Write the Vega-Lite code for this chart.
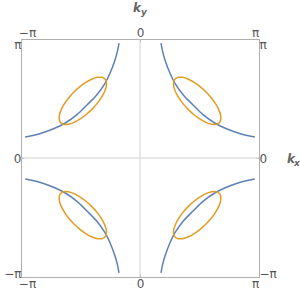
{
"$schema": "https://vega.github.io/schema/vega-lite/v6.json",
"width": 238, "height": 238,
"autosize": {"type": "none"},
"padding": {"left": 21, "top": 39, "right": 41, "bottom": 18},
"background": "white",
"config": {
  "view": {"stroke": "#b0b0b0", "strokeWidth": 1},
  "axis": {"labelFont": "DejaVu Sans", "labelFontSize": 12, "labelColor": "#555555", "grid": false, "domain": false, "title": null, "tickColor": "#b0b0b0", "tickSize": -3, "labelFlush": false}
},
"datasets": {
  "blue": [
    {"q":"TR","i":0,"x":0.554,"y":3.03},{"q":"TR","i":1,"x":0.6,"y":2.8},{"q":"TR","i":2,"x":0.66,"y":2.587},{"q":"TR","i":3,"x":0.792,"y":2.236},{"q":"TR","i":4,"x":0.924,"y":1.972},{"q":"TR","i":5,"x":1.144,"y":1.663},{"q":"TR","i":6,"x":1.4,"y":1.4},{"q":"TR","i":7,"x":1.663,"y":1.144},{"q":"TR","i":8,"x":1.972,"y":0.924},{"q":"TR","i":9,"x":2.236,"y":0.792},{"q":"TR","i":10,"x":2.587,"y":0.66},{"q":"TR","i":11,"x":2.8,"y":0.6},{"q":"TR","i":12,"x":3.03,"y":0.554},
    {"q":"TL","i":0,"x":-0.554,"y":3.03},{"q":"TL","i":1,"x":-0.6,"y":2.8},{"q":"TL","i":2,"x":-0.66,"y":2.587},{"q":"TL","i":3,"x":-0.792,"y":2.236},{"q":"TL","i":4,"x":-0.924,"y":1.972},{"q":"TL","i":5,"x":-1.144,"y":1.663},{"q":"TL","i":6,"x":-1.4,"y":1.4},{"q":"TL","i":7,"x":-1.663,"y":1.144},{"q":"TL","i":8,"x":-1.972,"y":0.924},{"q":"TL","i":9,"x":-2.236,"y":0.792},{"q":"TL","i":10,"x":-2.587,"y":0.66},{"q":"TL","i":11,"x":-2.8,"y":0.6},{"q":"TL","i":12,"x":-3.03,"y":0.554},
    {"q":"BL","i":0,"x":-0.554,"y":-3.03},{"q":"BL","i":1,"x":-0.6,"y":-2.8},{"q":"BL","i":2,"x":-0.66,"y":-2.587},{"q":"BL","i":3,"x":-0.792,"y":-2.236},{"q":"BL","i":4,"x":-0.924,"y":-1.972},{"q":"BL","i":5,"x":-1.144,"y":-1.663},{"q":"BL","i":6,"x":-1.4,"y":-1.4},{"q":"BL","i":7,"x":-1.663,"y":-1.144},{"q":"BL","i":8,"x":-1.972,"y":-0.924},{"q":"BL","i":9,"x":-2.236,"y":-0.792},{"q":"BL","i":10,"x":-2.587,"y":-0.66},{"q":"BL","i":11,"x":-2.8,"y":-0.6},{"q":"BL","i":12,"x":-3.03,"y":-0.554},
    {"q":"BR","i":0,"x":0.554,"y":-3.03},{"q":"BR","i":1,"x":0.6,"y":-2.8},{"q":"BR","i":2,"x":0.66,"y":-2.587},{"q":"BR","i":3,"x":0.792,"y":-2.236},{"q":"BR","i":4,"x":0.924,"y":-1.972},{"q":"BR","i":5,"x":1.144,"y":-1.663},{"q":"BR","i":6,"x":1.4,"y":-1.4},{"q":"BR","i":7,"x":1.663,"y":-1.144},{"q":"BR","i":8,"x":1.972,"y":-0.924},{"q":"BR","i":9,"x":2.236,"y":-0.792},{"q":"BR","i":10,"x":2.587,"y":-0.66},{"q":"BR","i":11,"x":2.8,"y":-0.6},{"q":"BR","i":12,"x":3.03,"y":-0.554}
  ],
  "orange": [
    {"q":"TR","i":0,"x":2.09,"y":0.93},{"q":"TR","i":1,"x":2.13,"y":1.01},{"q":"TR","i":2,"x":2.129,"y":1.125},{"q":"TR","i":3,"x":2.085,"y":1.265},{"q":"TR","i":4,"x":2.002,"y":1.422},{"q":"TR","i":5,"x":1.885,"y":1.585},{"q":"TR","i":6,"x":1.743,"y":1.743},{"q":"TR","i":7,"x":1.585,"y":1.885},{"q":"TR","i":8,"x":1.422,"y":2.002},{"q":"TR","i":9,"x":1.265,"y":2.085},{"q":"TR","i":10,"x":1.125,"y":2.129},{"q":"TR","i":11,"x":1.01,"y":2.13},{"q":"TR","i":12,"x":0.93,"y":2.09},{"q":"TR","i":13,"x":0.89,"y":2.01},{"q":"TR","i":14,"x":0.891,"y":1.893},{"q":"TR","i":15,"x":0.935,"y":1.755},{"q":"TR","i":16,"x":1.018,"y":1.598},{"q":"TR","i":17,"x":1.135,"y":1.435},{"q":"TR","i":18,"x":1.277,"y":1.277},{"q":"TR","i":19,"x":1.435,"y":1.135},{"q":"TR","i":20,"x":1.598,"y":1.018},{"q":"TR","i":21,"x":1.755,"y":0.935},{"q":"TR","i":22,"x":1.893,"y":0.891},{"q":"TR","i":23,"x":2.01,"y":0.89},
    {"q":"TL","i":0,"x":-2.09,"y":0.93},{"q":"TL","i":1,"x":-2.13,"y":1.01},{"q":"TL","i":2,"x":-2.129,"y":1.125},{"q":"TL","i":3,"x":-2.085,"y":1.265},{"q":"TL","i":4,"x":-2.002,"y":1.422},{"q":"TL","i":5,"x":-1.885,"y":1.585},{"q":"TL","i":6,"x":-1.743,"y":1.743},{"q":"TL","i":7,"x":-1.585,"y":1.885},{"q":"TL","i":8,"x":-1.422,"y":2.002},{"q":"TL","i":9,"x":-1.265,"y":2.085},{"q":"TL","i":10,"x":-1.125,"y":2.129},{"q":"TL","i":11,"x":-1.01,"y":2.13},{"q":"TL","i":12,"x":-0.93,"y":2.09},{"q":"TL","i":13,"x":-0.89,"y":2.01},{"q":"TL","i":14,"x":-0.891,"y":1.893},{"q":"TL","i":15,"x":-0.935,"y":1.755},{"q":"TL","i":16,"x":-1.018,"y":1.598},{"q":"TL","i":17,"x":-1.135,"y":1.435},{"q":"TL","i":18,"x":-1.277,"y":1.277},{"q":"TL","i":19,"x":-1.435,"y":1.135},{"q":"TL","i":20,"x":-1.598,"y":1.018},{"q":"TL","i":21,"x":-1.755,"y":0.935},{"q":"TL","i":22,"x":-1.893,"y":0.891},{"q":"TL","i":23,"x":-2.01,"y":0.89},
    {"q":"BL","i":0,"x":-2.09,"y":-0.93},{"q":"BL","i":1,"x":-2.13,"y":-1.01},{"q":"BL","i":2,"x":-2.129,"y":-1.125},{"q":"BL","i":3,"x":-2.085,"y":-1.265},{"q":"BL","i":4,"x":-2.002,"y":-1.422},{"q":"BL","i":5,"x":-1.885,"y":-1.585},{"q":"BL","i":6,"x":-1.743,"y":-1.743},{"q":"BL","i":7,"x":-1.585,"y":-1.885},{"q":"BL","i":8,"x":-1.422,"y":-2.002},{"q":"BL","i":9,"x":-1.265,"y":-2.085},{"q":"BL","i":10,"x":-1.125,"y":-2.129},{"q":"BL","i":11,"x":-1.01,"y":-2.13},{"q":"BL","i":12,"x":-0.93,"y":-2.09},{"q":"BL","i":13,"x":-0.89,"y":-2.01},{"q":"BL","i":14,"x":-0.891,"y":-1.893},{"q":"BL","i":15,"x":-0.935,"y":-1.755},{"q":"BL","i":16,"x":-1.018,"y":-1.598},{"q":"BL","i":17,"x":-1.135,"y":-1.435},{"q":"BL","i":18,"x":-1.277,"y":-1.277},{"q":"BL","i":19,"x":-1.435,"y":-1.135},{"q":"BL","i":20,"x":-1.598,"y":-1.018},{"q":"BL","i":21,"x":-1.755,"y":-0.935},{"q":"BL","i":22,"x":-1.893,"y":-0.891},{"q":"BL","i":23,"x":-2.01,"y":-0.89},
    {"q":"BR","i":0,"x":2.09,"y":-0.93},{"q":"BR","i":1,"x":2.13,"y":-1.01},{"q":"BR","i":2,"x":2.129,"y":-1.125},{"q":"BR","i":3,"x":2.085,"y":-1.265},{"q":"BR","i":4,"x":2.002,"y":-1.422},{"q":"BR","i":5,"x":1.885,"y":-1.585},{"q":"BR","i":6,"x":1.743,"y":-1.743},{"q":"BR","i":7,"x":1.585,"y":-1.885},{"q":"BR","i":8,"x":1.422,"y":-2.002},{"q":"BR","i":9,"x":1.265,"y":-2.085},{"q":"BR","i":10,"x":1.125,"y":-2.129},{"q":"BR","i":11,"x":1.01,"y":-2.13},{"q":"BR","i":12,"x":0.93,"y":-2.09},{"q":"BR","i":13,"x":0.89,"y":-2.01},{"q":"BR","i":14,"x":0.891,"y":-1.893},{"q":"BR","i":15,"x":0.935,"y":-1.755},{"q":"BR","i":16,"x":1.018,"y":-1.598},{"q":"BR","i":17,"x":1.135,"y":-1.435},{"q":"BR","i":18,"x":1.277,"y":-1.277},{"q":"BR","i":19,"x":1.435,"y":-1.135},{"q":"BR","i":20,"x":1.598,"y":-1.018},{"q":"BR","i":21,"x":1.755,"y":-0.935},{"q":"BR","i":22,"x":1.893,"y":-0.891},{"q":"BR","i":23,"x":2.01,"y":-0.89}
  ]
},
"layer": [
  {
    "data": {"values": [{}]},
    "mark": {"type": "rule", "color": "#d0d0d0", "strokeWidth": 1},
    "encoding": {
      "x": {"datum": 0, "type": "quantitative", "scale": {"domain": [-3.14159, 3.14159], "nice": false, "zero": false},
        "axis": {"orient": "bottom", "values": [-3.14159, 0, 3.14159], "labelExpr": "datum.value < -1 ? '−π' : (datum.value > 1 ? 'π' : '0')", "labelPadding": 4,
          "labelOffset": {"condition": [{"test": "datum.value < -1", "value": 6}, {"test": "datum.value > 1", "value": -4}], "value": 0}}}
    }
  },
  {
    "data": {"values": [{}]},
    "mark": {"type": "rule", "color": "#d0d0d0", "strokeWidth": 1},
    "encoding": {
      "y": {"datum": 0, "type": "quantitative", "scale": {"domain": [-3.14159, 3.14159], "nice": false, "zero": false},
        "axis": {"orient": "left", "values": [-3.14159, 0, 3.14159], "labelExpr": "datum.value < -1 ? '−π' : (datum.value > 1 ? 'π' : '0')", "labelPadding": 3,
          "labelOffset": {"condition": [{"test": "datum.value < -1", "value": -4}, {"test": "datum.value > 1", "value": 5}], "value": 0}}}
    }
  },
  {
    "data": {"name": "blue"},
    "mark": {"type": "line", "color": "#5E81B5", "strokeWidth": 1.5, "interpolate": "catmull-rom"},
    "encoding": {
      "x": {"field": "x", "type": "quantitative", "scale": {"domain": [-3.14159, 3.14159], "nice": false, "zero": false},
        "axis": {"orient": "top", "values": [-3.14159, 0, 3.14159], "labelExpr": "datum.value < -1 ? '−π' : (datum.value > 1 ? 'π' : '0')", "labelPadding": 3,
          "labelOffset": {"condition": [{"test": "datum.value < -1", "value": 6}, {"test": "datum.value > 1", "value": -4}], "value": 0}}},
      "y": {"field": "y", "type": "quantitative", "scale": {"domain": [-3.14159, 3.14159], "nice": false, "zero": false},
        "axis": {"orient": "right", "values": [-3.14159, 0, 3.14159], "labelExpr": "datum.value < -1 ? '−π' : (datum.value > 1 ? 'π' : '0')", "labelPadding": 3,
          "labelOffset": {"condition": [{"test": "datum.value < -1", "value": -4}, {"test": "datum.value > 1", "value": 5}], "value": 0}}},
      "detail": {"field": "q"},
      "order": {"field": "i", "type": "quantitative"}
    }
  },
  {
    "data": {"name": "orange"},
    "mark": {"type": "line", "color": "#E19C24", "strokeWidth": 1.5, "interpolate": "cardinal-closed"},
    "encoding": {
      "x": {"field": "x", "type": "quantitative", "axis": null},
      "y": {"field": "y", "type": "quantitative", "axis": null},
      "detail": {"field": "q"},
      "order": {"field": "i", "type": "quantitative"}
    }
  },
  {
    "data": {"values": [{}]},
    "mark": {"type": "text", "text": "k", "font": "DejaVu Sans", "fontSize": 12, "fontStyle": "italic", "fontWeight": "bold", "color": "#666666", "align": "center", "baseline": "alphabetic", "dx": -3, "dy": -27},
    "encoding": {"x": {"datum": 0, "type": "quantitative", "axis": null}, "y": {"datum": 3.14159, "type": "quantitative", "axis": null}}
  },
  {
    "data": {"values": [{}]},
    "mark": {"type": "text", "text": "y", "font": "DejaVu Sans", "fontSize": 9, "fontStyle": "italic", "fontWeight": "bold", "color": "#666666", "align": "left", "baseline": "alphabetic", "dx": 1, "dy": -24},
    "encoding": {"x": {"datum": 0, "type": "quantitative", "axis": null}, "y": {"datum": 3.14159, "type": "quantitative", "axis": null}}
  },
  {
    "data": {"values": [{}]},
    "mark": {"type": "text", "text": "k", "font": "DejaVu Sans", "fontSize": 12, "fontStyle": "italic", "fontWeight": "bold", "color": "#666666", "align": "left", "baseline": "alphabetic", "dx": 28, "dy": 5},
    "encoding": {"x": {"datum": 3.14159, "type": "quantitative", "axis": null}, "y": {"datum": 0, "type": "quantitative", "axis": null}}
  },
  {
    "data": {"values": [{}]},
    "mark": {"type": "text", "text": "x", "font": "DejaVu Sans", "fontSize": 9, "fontStyle": "italic", "fontWeight": "bold", "color": "#666666", "align": "left", "baseline": "alphabetic", "dx": 35, "dy": 8},
    "encoding": {"x": {"datum": 3.14159, "type": "quantitative", "axis": null}, "y": {"datum": 0, "type": "quantitative", "axis": null}}
  }
],
"resolve": {"axis": {"x": "independent", "y": "independent"}}
}
